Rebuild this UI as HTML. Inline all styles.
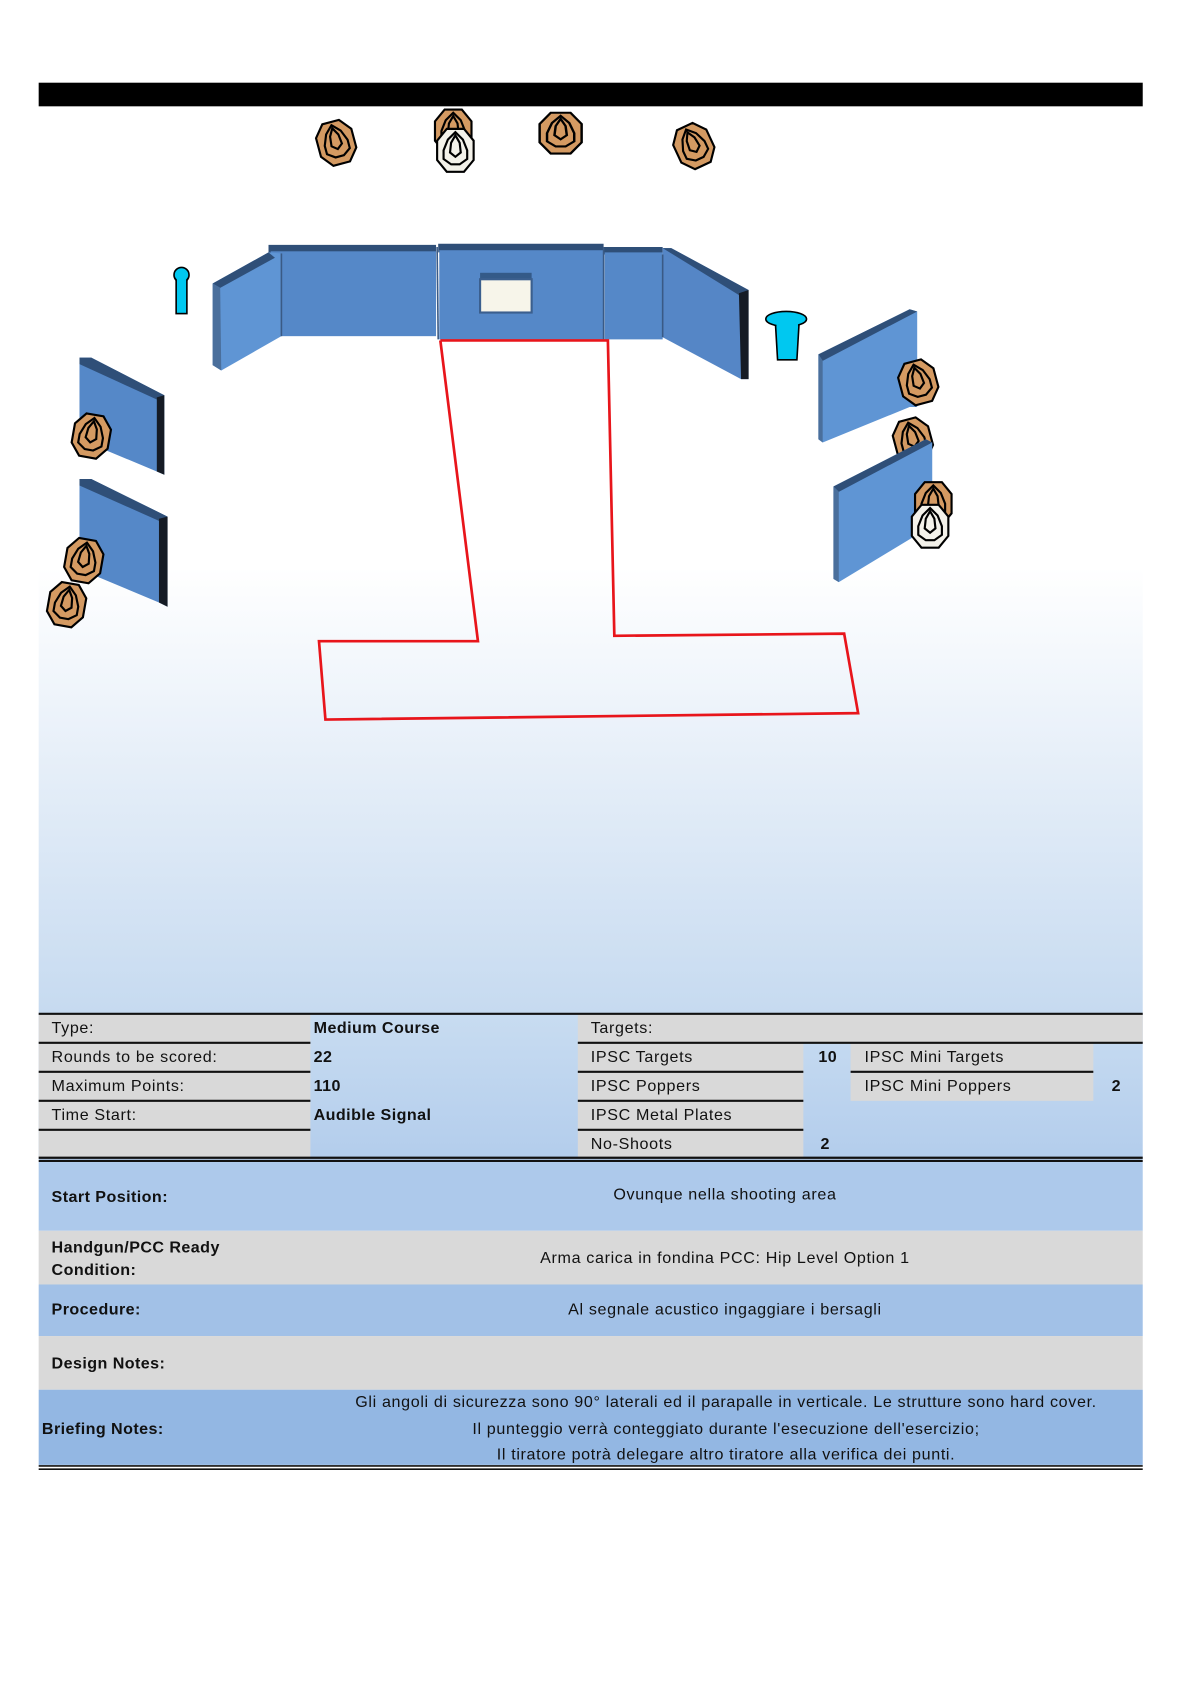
<!DOCTYPE html>
<html><head><meta charset="utf-8"><style>
html,body{margin:0;padding:0;background:#fff;width:1190px;height:1684px;overflow:hidden}
svg{display:block}
text{font-family:"Liberation Sans",Arial,sans-serif;font-size:15px;fill:#111;letter-spacing:0.6px}
.b{font-weight:bold;letter-spacing:0.4px}
</style></head><body>
<svg width="1190" height="1684" viewBox="0 0 1108 1568" xmlns="http://www.w3.org/2000/svg">
<defs>
<linearGradient id="bg" x1="0" y1="0" x2="0" y2="1">
<stop offset="0" stop-color="#ffffff"/><stop offset="0.56" stop-color="#ffffff"/><stop offset="1" stop-color="#c6daf0"/>
</linearGradient>
<linearGradient id="tb" x1="0" y1="0" x2="0" y2="1">
<stop offset="0" stop-color="#c8dcf1"/><stop offset="1" stop-color="#b3cdec"/>
</linearGradient>
<g id="tg">
<polygon points="-8,-20 8,-20 17,-9 17,9 8,20 -8,20 -17,9 -17,-9" fill="#d49a62" stroke="#000" stroke-width="2"/>
<polygon points="0,-17 7,-10 11,0 11,8 4,13 -4,13 -11,8 -11,0 -7,-10" fill="none" stroke="#000" stroke-width="2"/>
<polygon points="0,-14 4,-7 5,2 0,6 -5,2 -4,-7" fill="none" stroke="#000" stroke-width="2"/>
</g>
<g id="ns">
<polygon points="-8,-20 8,-20 17,-9 17,9 8,20 -8,20 -17,9 -17,-9" fill="#f4f2ea" stroke="#000" stroke-width="2"/>
<polygon points="0,-17 7,-10 11,0 11,8 4,13 -4,13 -11,8 -11,0 -7,-10" fill="none" stroke="#000" stroke-width="2"/>
<polygon points="0,-14 4,-7 5,2 0,6 -5,2 -4,-7" fill="none" stroke="#000" stroke-width="2"/>
</g>
</defs>
<rect x="36" y="0" width="1028" height="944" fill="url(#bg)"/>
<rect x="36" y="77" width="1028" height="22" fill="#000"/>

<use href="#tg" transform="translate(313,133) rotate(-15)"/>
<use href="#tg" transform="translate(422,122)"/>
<use href="#ns" transform="translate(424,140)"/>
<use href="#tg" transform="translate(522,124) scale(1.15,0.95)"/>
<use href="#tg" transform="translate(646,136) rotate(-25)"/>

<polygon points="250,228 406,228 406,236 250,236" fill="#2f4f78"/>
<rect x="252" y="234" width="154" height="79" fill="#5588c8"/>
<polygon points="408,227 562,227 562,235 408,235" fill="#2f4f78"/>
<rect x="409" y="233" width="153" height="83" fill="#5588c8"/>
<rect x="447" y="254" width="48" height="6" fill="#345a88"/>
<rect x="447" y="260" width="48" height="31" fill="#f7f5ea" stroke="#3b5f8e" stroke-width="2"/>
<polygon points="562,230 617,230 617,237 562,237" fill="#2f4f78"/>
<rect x="563" y="235" width="54" height="81" fill="#5588c8"/>
<polygon points="198,264 250,235 262,236 262,313 206,345 198,340" fill="#5f95d4"/>
<polygon points="198,264 250,235 256,240 205,268" fill="#2f4f78"/>
<polygon points="198,264 205,268 206,345 198,340" fill="#4a6f9c"/>
<polygon points="617,231 625,231 697,270 697,353 690,353 617,314" fill="#5586c6"/>
<polygon points="617,231 625,231 697,270 690,276" fill="#2f4f78"/>
<polygon points="688,273 697,270 697,353 690,353" fill="#151b25"/>
<line x1="407" y1="230" x2="408" y2="316" stroke="#3a5a85" stroke-width="1.5"/>
<line x1="562" y1="231" x2="562" y2="316" stroke="#3a5a85" stroke-width="1.5"/>
<line x1="617" y1="237" x2="617" y2="314" stroke="#3a5a85" stroke-width="1.5"/>
<line x1="262" y1="236" x2="262" y2="313" stroke="#3a5a85" stroke-width="1.5"/>

<circle cx="169" cy="256" r="7" fill="#00c8f0" stroke="#000" stroke-width="1.5"/>
<rect x="164" y="258" width="10" height="34" fill="#00c8f0" stroke="#000" stroke-width="1.5"/>
<circle cx="169" cy="256" r="6" fill="#00c8f0"/>
<polygon points="722,301 744,301 742,335 724,335" fill="#00c8f0" stroke="#000" stroke-width="1.5"/>
<ellipse cx="732" cy="297" rx="19" ry="7" fill="#00c8f0" stroke="#000" stroke-width="1.5"/>
<rect x="723" y="300" width="20" height="5" fill="#00c8f0"/>

<polygon points="74,333 85,333 153,368 153,442 146,439 74,409" fill="#5588c8"/>
<polygon points="74,333 85,333 153,368 146,372 74,339" fill="#2f4f78"/>
<polygon points="146,370 153,368 153,442 146,439" fill="#151b25"/>
<polygon points="74,446 85,446 156,481 156,565 148,561 74,530" fill="#5588c8"/>
<polygon points="74,446 85,446 156,481 148,485 74,452" fill="#2f4f78"/>
<polygon points="148,483 156,481 156,565 148,561" fill="#151b25"/>
<use href="#tg" transform="translate(85,406) rotate(10)"/>
<use href="#tg" transform="translate(78,522) rotate(10)"/>
<use href="#tg" transform="translate(62,563) rotate(10)"/>

<polygon points="847,288 854,290 854,379 847,379 766,412 762,409 762,330" fill="#5f95d4"/>
<polygon points="762,330 847,288 854,290 766,336" fill="#2f4f78"/>
<polygon points="762,330 766,336 766,412 762,409" fill="#4a6f9c"/>
<use href="#tg" transform="translate(855,356) rotate(-15)"/>
<use href="#tg" transform="translate(850,410) rotate(-15)"/>
<polygon points="862,409 868,412 868,493 862,493 781,542 776,539 776,453" fill="#5f95d4"/>
<polygon points="776,453 862,409 868,412 781,458" fill="#2f4f78"/>
<polygon points="776,453 781,458 781,542 776,539" fill="#4a6f9c"/>
<use href="#tg" transform="translate(869,469)"/>
<use href="#ns" transform="translate(866,490)"/>

<polyline points="410,317 566,317 572,592 786,590 799,664 303,670 297,597 445,597 410,317" fill="none" stroke="#e8151b" stroke-width="2.5"/>

<rect x="36" y="944" width="1028" height="136" fill="url(#tb)"/>
<rect x="36" y="944" width="253" height="134" fill="#d9d9d9"/>
<rect x="538" y="944" width="526" height="27" fill="#d9d9d9"/>
<rect x="538" y="971" width="210" height="107" fill="#d9d9d9"/>
<rect x="792" y="971" width="226" height="54" fill="#d9d9d9"/>
<g stroke="#111" stroke-width="2">
<line x1="36" y1="944" x2="1064" y2="944"/>
<line x1="36" y1="971" x2="289" y2="971"/><line x1="538" y1="971" x2="1064" y2="971"/>
<line x1="36" y1="998" x2="289" y2="998"/><line x1="538" y1="998" x2="748" y2="998"/><line x1="792" y1="998" x2="1018" y2="998"/>
<line x1="36" y1="1025" x2="289" y2="1025"/><line x1="538" y1="1025" x2="748" y2="1025"/>
<line x1="36" y1="1052" x2="289" y2="1052"/><line x1="538" y1="1052" x2="748" y2="1052"/>
<line x1="36" y1="1078" x2="1064" y2="1078"/><line x1="36" y1="1081" x2="1064" y2="1081"/>
</g>
<text x="48" y="962">Type:</text>
<text x="48" y="989">Rounds to be scored:</text>
<text x="48" y="1016">Maximum Points:</text>
<text x="48" y="1043">Time Start:</text>
<text class="b" x="292" y="962">Medium Course</text>
<text class="b" x="292" y="989">22</text>
<text class="b" x="292" y="1016">110</text>
<text class="b" x="292" y="1043">Audible Signal</text>
<text x="550" y="962">Targets:</text>
<text x="550" y="989">IPSC Targets</text>
<text x="550" y="1016">IPSC Poppers</text>
<text x="550" y="1043">IPSC Metal Plates</text>
<text x="550" y="1070">No-Shoots</text>
<text class="b" x="762" y="989">10</text>
<text class="b" x="764" y="1070">2</text>
<text x="805" y="989">IPSC Mini Targets</text>
<text x="805" y="1016">IPSC Mini Poppers</text>
<text class="b" x="1035" y="1016">2</text>

<rect x="36" y="1082" width="1028" height="64" fill="#adc9eb"/>
<rect x="36" y="1146" width="1028" height="50" fill="#d9d9d9"/>
<rect x="36" y="1196" width="1028" height="48" fill="#a2c1e7"/>
<rect x="36" y="1244" width="1028" height="50" fill="#d9d9d9"/>
<rect x="36" y="1294" width="1028" height="70" fill="#93b7e3"/>
<g stroke="#111" stroke-width="1.5"><line x1="36" y1="1365" x2="1064" y2="1365"/><line x1="36" y1="1368" x2="1064" y2="1368"/></g>
<text class="b" x="48" y="1119">Start Position:</text>
<text x="675" y="1117" text-anchor="middle">Ovunque nella shooting area</text>
<text class="b" x="48" y="1166">Handgun/PCC Ready</text>
<text class="b" x="48" y="1187">Condition:</text>
<text x="675" y="1176" text-anchor="middle">Arma carica in fondina PCC: Hip Level Option 1</text>
<text class="b" x="48" y="1224">Procedure:</text>
<text x="675" y="1224" text-anchor="middle">Al segnale acustico ingaggiare i bersagli</text>
<text class="b" x="48" y="1274">Design Notes:</text>
<text class="b" x="39" y="1335">Briefing Notes:</text>
<text x="676" y="1310" text-anchor="middle">Gli angoli di sicurezza sono 90° laterali ed il parapalle in verticale. Le strutture sono hard cover.</text>
<text x="676" y="1335" text-anchor="middle">Il punteggio verrà conteggiato durante l'esecuzione dell'esercizio;</text>
<text x="676" y="1359" text-anchor="middle">Il tiratore potrà delegare altro tiratore alla verifica dei punti.</text>
</svg>
</body></html>
